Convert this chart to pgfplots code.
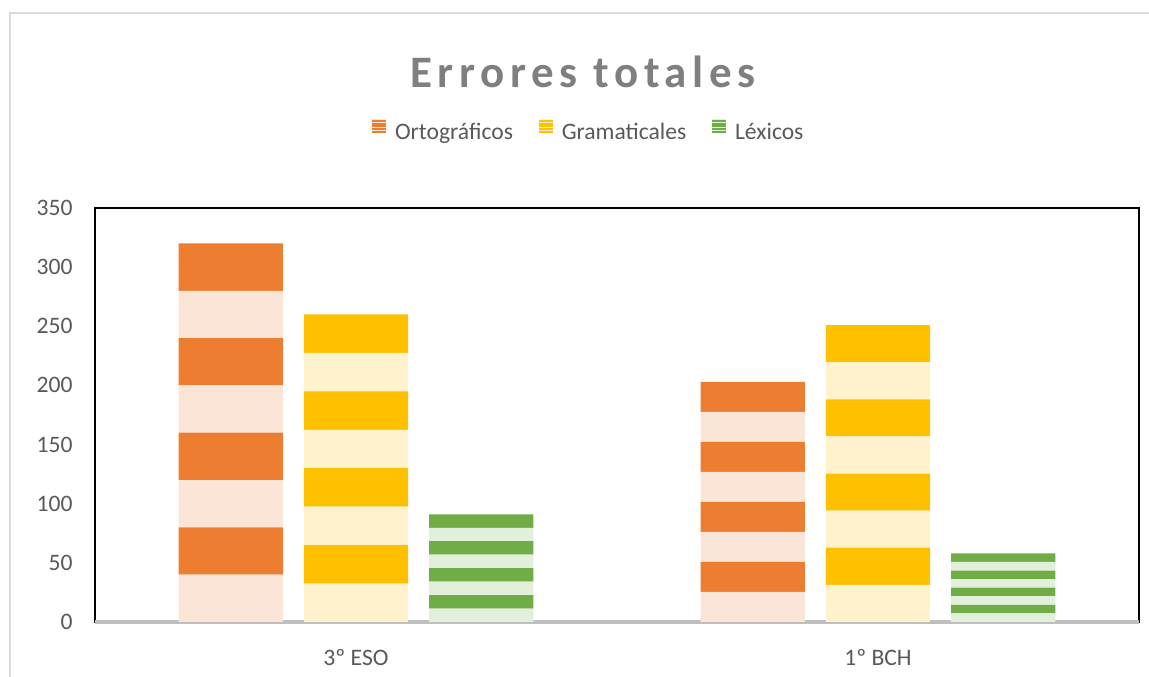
\documentclass[border=0pt]{standalone}
\usepackage{pgfplots}
\pgfplotsset{compat=1.18}
\usepackage{pgfplotstable}
\usepackage{fontspec}
\setmainfont{Carlito}
\newfontfamily\titlefont[LetterSpace=12.5]{Carlito}

\definecolor{ORd}{HTML}{ED7D31}
\definecolor{ORl}{HTML}{FBE5D6}
\definecolor{YEd}{HTML}{FFC000}
\definecolor{YEl}{HTML}{FFF2CC}
\definecolor{GRd}{HTML}{70AD47}
\definecolor{GRl}{HTML}{E2EFDA}
\definecolor{txt}{HTML}{595959}
\definecolor{ttl}{HTML}{7F7F7F}

% height of one of the 8 stripes of each bar (bar total / 8)
% totals: 3º ESO 320, 260, 91 -- 1º BCH 203, 251, 58
\pgfplotstableread{
x     o       g       l
-0.24 40      0       0
0     0       32.5    0
0.24  0       0       11.375
0.76  25.375  0       0
1     0       31.375  0
1.24  0       0       7.25
}\bands

\pgfplotsset{
  stripeleg/.style 2 args={legend image code/.code={
    \fill[#2] (0pt,0.2pt) rectangle (6.5pt,6.8pt);
    \fill[#1] (0pt,0.6pt) rectangle (6.5pt,1.1pt);
    \fill[#1] (0pt,1.9pt) rectangle (6.5pt,2.4pt);
    \fill[#1] (0pt,3.2pt) rectangle (6.5pt,3.7pt);
    \fill[#1] (0pt,4.5pt) rectangle (6.5pt,5.0pt);
    \fill[#1] (0pt,5.8pt) rectangle (6.5pt,6.3pt);
    \path (9pt,3pt);
  }},
}

\begin{document}
\begin{tikzpicture}
\begin{axis}[
  scale only axis,
  width=522pt, height=207pt,
  ybar stacked,
  bar width=0.2,
  xmin=-0.5, xmax=1.5,
  ymin=0, ymax=350,
  ytick={0,50,...,350},
  xtick={0,1},
  xticklabels={3º ESO, 1º BCH},
  major tick length=0pt,
  axis line style={black, line width=0.8pt},
  /pgf/number format/assume math mode=true,
  tick label style={font=\fontsize{11.8}{14}\selectfont, text=txt},
  yticklabel style={inner sep=0pt, xshift=-11pt},
  xticklabel style={inner sep=0pt, yshift=-13.5pt},
  clip=false,
  legend style={at={(rel axis cs:0.474,1.181)}, anchor=center, draw=none,
    font=\fontsize{11.8}{14}\selectfont, text=txt, legend columns=-1,
    /tikz/every even column/.append style={column sep=11pt}},
  legend cell align=left,
]
\pgfplotsinvokeforeach{1,...,4}{
  \addplot[fill=ORl, draw=none, forget plot] table[x=x, y=o] {\bands};
  \addplot[fill=YEl, draw=none, forget plot] table[x=x, y=g] {\bands};
  \addplot[fill=GRl, draw=none, forget plot] table[x=x, y=l] {\bands};
  \addplot[fill=ORd, draw=none, forget plot] table[x=x, y=o] {\bands};
  \addplot[fill=YEd, draw=none, forget plot] table[x=x, y=g] {\bands};
  \addplot[fill=GRd, draw=none, forget plot] table[x=x, y=l] {\bands};
}
\addlegendimage{stripeleg={ORd}{ORl}}
\addlegendentry{Ortográficos}
\addlegendimage{stripeleg={YEd}{YEl}}
\addlegendentry{Gramaticales}
\addlegendimage{stripeleg={GRd}{GRl}}
\addlegendentry{Léxicos}

\draw[color=black!25, line width=1.7pt] (rel axis cs:0,0) -- (rel axis cs:1,0);
\node[font=\titlefont\bfseries\fontsize{22.5}{27}\selectfont, text=ttl]
  at (rel axis cs:0.4674,1.3285) {Errores totales};
\draw[color=black!14, line width=1pt] (rel axis cs:-0.0814,-0.4) rectangle (rel axis cs:1.06,1.4710);
\coordinate (bbl) at (rel axis cs:-0.0910,-0.1329);
\coordinate (bbr) at (rel axis cs:1.00958,1.5024);
\end{axis}
\pgfresetboundingbox
\useasboundingbox (bbl) rectangle (bbr);
\end{tikzpicture}
\end{document}
